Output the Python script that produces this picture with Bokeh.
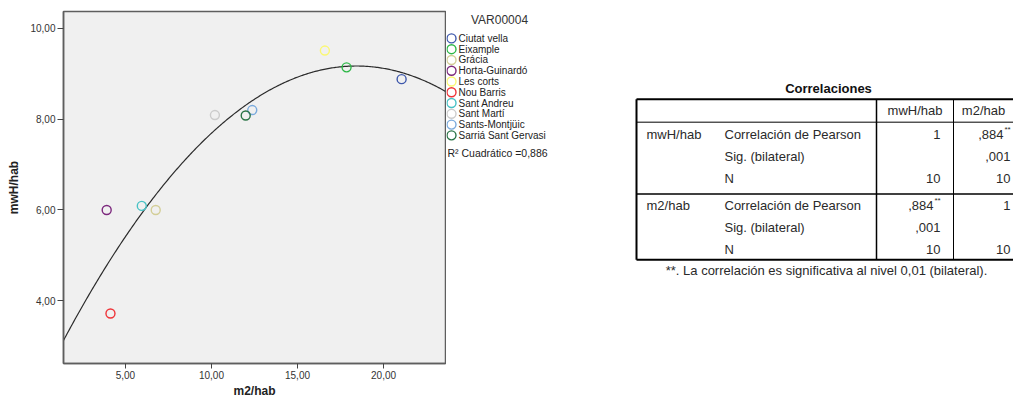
import numpy as np
from bokeh.plotting import figure
from bokeh.models import Range1d, FixedTicker, ColumnDataSource
from bokeh.layouts import row
from bokeh.embed import file_html
from bokeh.resources import INLINE
from bokeh.core.properties import value

# ---------------- data ----------------
districts = ["Ciutat vella", "Eixample", "Grácia", "Horta-Guinardó", "Les corts",
             "Nou Barris", "Sant Andreu", "Sant Martí", "Sants-Montjüic", "Sarriá Sant Gervasi"]
m2_hab = [21.05, 17.85, 6.76, 3.91, 16.59, 4.13, 5.95, 10.20, 12.37, 11.99]
mwh_hab = [8.88, 9.14, 6.00, 6.00, 9.51, 3.72, 6.09, 8.09, 8.20, 8.08]
colors = ["#3e58ac", "#2eb848", "#d3ce97", "#7c287d", "#fbf873",
          "#ef3338", "#48c2c5", "#cccccc", "#7aaadd", "#2a7446"]
x_ticks = [5, 10, 15, 20]
x_tick_labels = ["5,00", "10,00", "15,00", "20,00"]
y_ticks = [4, 6, 8, 10]
y_tick_labels = ["4,00", "6,00", "8,00", "10,00"]
legend_title = "VAR00004"
fit_label = "R\u00b2 Cuadrático =0,886"

table_title = "Correlaciones"
col_headers = ["mwH/hab", "m2/hab"]
row_vars = ["mwH/hab", "m2/hab"]
stat_names = ["Correlación de Pearson", "Sig. (bilateral)", "N"]
col1_values = ["1", "", "10", ",884", ",001", "10"]
col2_values = [",884", ",001", "10", "1", "", "10"]
col1_flags = ["", "", "", "**", "", ""]
col2_flags = ["**", "", "", "", "", ""]
footnote = "**. La correlación es significativa al nivel 0,01 (bilateral)."

FONT = "Liberation Sans"
TOTAL_W, H = 1013, 400
B_TOP, B_BOT = 11, 36          # same borders on both plots so frames line up
PAGE_TOP = B_TOP
PAGE_BOT = H - B_BOT

# ---------------- scatter plot ----------------
X0, X1 = 1.4, 23.6
Y0, Y1 = 2.62, 10.37
W1 = 446
p1 = figure(width=W1, height=H, x_range=Range1d(X0, X1), y_range=Range1d(Y0, Y1),
            output_backend="svg", toolbar_location=None,
            min_border_left=63, min_border_right=1, min_border_top=B_TOP, min_border_bottom=B_BOT)
p1.background_fill_color = "#f0f0f0"
p1.border_fill_color = "white"
p1.outline_line_color = "#5e5e5e"
p1.outline_line_width = 1.5
p1.grid.visible = False

coef = np.polyfit(m2_hab, mwh_hab, 2)
xs = np.linspace(X0, X1, 300)
p1.line(xs, np.polyval(coef, xs), line_color="#2b2b2b", line_width=1.2)

src_pts = ColumnDataSource(dict(x=m2_hab, y=mwh_hab, c=colors, name=districts))
p1.scatter("x", "y", source=src_pts, marker="circle", size=9, fill_alpha=0,
           line_color="c", line_width=1.4)

for ax in (p1.xaxis[0], p1.yaxis[0]):
    ax.axis_line_color = "#5e5e5e"
    ax.axis_line_width = 1.5
    ax.major_tick_line_color = "#444444"
    ax.major_tick_in = 0
    ax.minor_tick_line_color = None
    ax.major_label_text_font = FONT
    ax.major_label_text_font_size = "10px"
    ax.major_label_text_color = "#333333"
    ax.axis_label_text_font = FONT
    ax.axis_label_text_font_size = "12px"
    ax.axis_label_text_font_style = "bold"
    ax.axis_label_text_color = "#222222"

p1.xaxis.ticker = FixedTicker(ticks=x_ticks)
p1.xaxis.major_label_overrides = dict(zip(x_ticks, x_tick_labels))
p1.xaxis.major_tick_out = 5
p1.xaxis.major_label_standoff = 2
p1.xaxis.axis_label = "m2/hab"
p1.xaxis.axis_label_standoff = 2

p1.yaxis.ticker = FixedTicker(ticks=y_ticks)
p1.yaxis.major_label_overrides = dict(zip(y_ticks, y_tick_labels))
p1.yaxis.major_tick_out = 6
p1.yaxis.major_label_standoff = 2
p1.yaxis.axis_label = "mwH/hab"
p1.yaxis.axis_label_standoff = 6

# ---------------- right side: legend + correlation table (canvas-pixel coordinates) ----------------
PX0, PX1 = W1, TOTAL_W
p2 = figure(width=PX1 - PX0, height=H, x_range=Range1d(PX0, PX1),
            y_range=Range1d(PAGE_BOT, PAGE_TOP),
            output_backend="svg", toolbar_location=None,
            min_border_left=0, min_border_right=0, min_border_top=B_TOP, min_border_bottom=B_BOT,
            x_axis_location=None, y_axis_location=None)
p2.grid.visible = False
p2.outline_line_color = None
p2.background_fill_color = "white"
p2.border_fill_color = "white"


def txt(xs_, ys_, texts, align, size="13px", style="normal", color="#2a2a2a"):
    src = ColumnDataSource(dict(x=list(xs_), y=list(ys_), t=list(texts)))
    p2.text("x", "y", text="t", source=src, text_font=value(FONT), text_font_size=value(size),
            text_font_style=style, text_align=align, text_baseline="middle", text_color=color)


# legend
leg_glyph_x, leg_text_x, leg_first_y, leg_step = 451, 458, 38, 10.8
leg_y = [leg_first_y + i * leg_step for i in range(len(districts))]
src_leg = ColumnDataSource(dict(x=[leg_glyph_x] * len(districts), y=leg_y, c=colors))
p2.scatter("x", "y", source=src_leg, marker="circle", size=9, fill_alpha=0,
           line_color="c", line_width=1.4)
txt([leg_text_x] * len(districts), leg_y, districts, "left", size="10px", color="#222222")
txt([499], [20], [legend_title], "center", size="12px", color="#333333")
txt([447], [153], [fit_label], "left", size="10.5px", color="#222222")

# table
t_left, t_right = 636, PX1
t_top, t_head, t_bottom = 99, 122, 260
sep_x = [876, 953]
group_h = 72
row_off, row_h = 12, 22
col_right = [940, 1010]
col_center = [914.5, 983]
flag_w = 7

hl = [(t_top, 2), (t_bottom, 2), (t_head, 1), (t_head + group_h, 1.5)]
for yy, w in hl:
    p2.segment(x0=[t_left], y0=[yy], x1=[t_right], y1=[yy], line_color="black", line_width=w)
p2.segment(x0=[t_left], y0=[t_top], x1=[t_left], y1=[t_bottom], line_color="black", line_width=2)
p2.segment(x0=[sep_x[0]], y0=[t_top], x1=[sep_x[0]], y1=[t_bottom], line_color="black", line_width=1.5)
p2.segment(x0=[sep_x[1]], y0=[t_top], x1=[sep_x[1]], y1=[t_bottom], line_color="black", line_width=1)

txt([828], [88], [table_title], "center", style="bold", color="#111111")
txt([826], [271], [footnote], "center")
txt(col_center, [(t_top + t_head) / 2] * 2, col_headers, "center")

row_y = []
for g in range(len(row_vars)):
    for k in range(len(stat_names)):
        row_y.append(t_head + g * group_h + row_off + k * row_h)

txt([646] * len(row_vars), [row_y[g * len(stat_names)] for g in range(len(row_vars))], row_vars, "left")
txt([724] * len(row_y), row_y, stat_names * len(row_vars), "left")
for cr, vals, flags in ((col_right[0], col1_values, col1_flags), (col_right[1], col2_values, col2_flags)):
    vx = [cr - (flag_w if f else 0) for f in flags]
    txt(vx, row_y, vals, "right")
    txt([v + 1 for v in vx], [y - 5 for y in row_y], flags, "left", size="8px")

layout = row(p1, p2)
open("out.html", "w").write(file_html(layout, INLINE))
